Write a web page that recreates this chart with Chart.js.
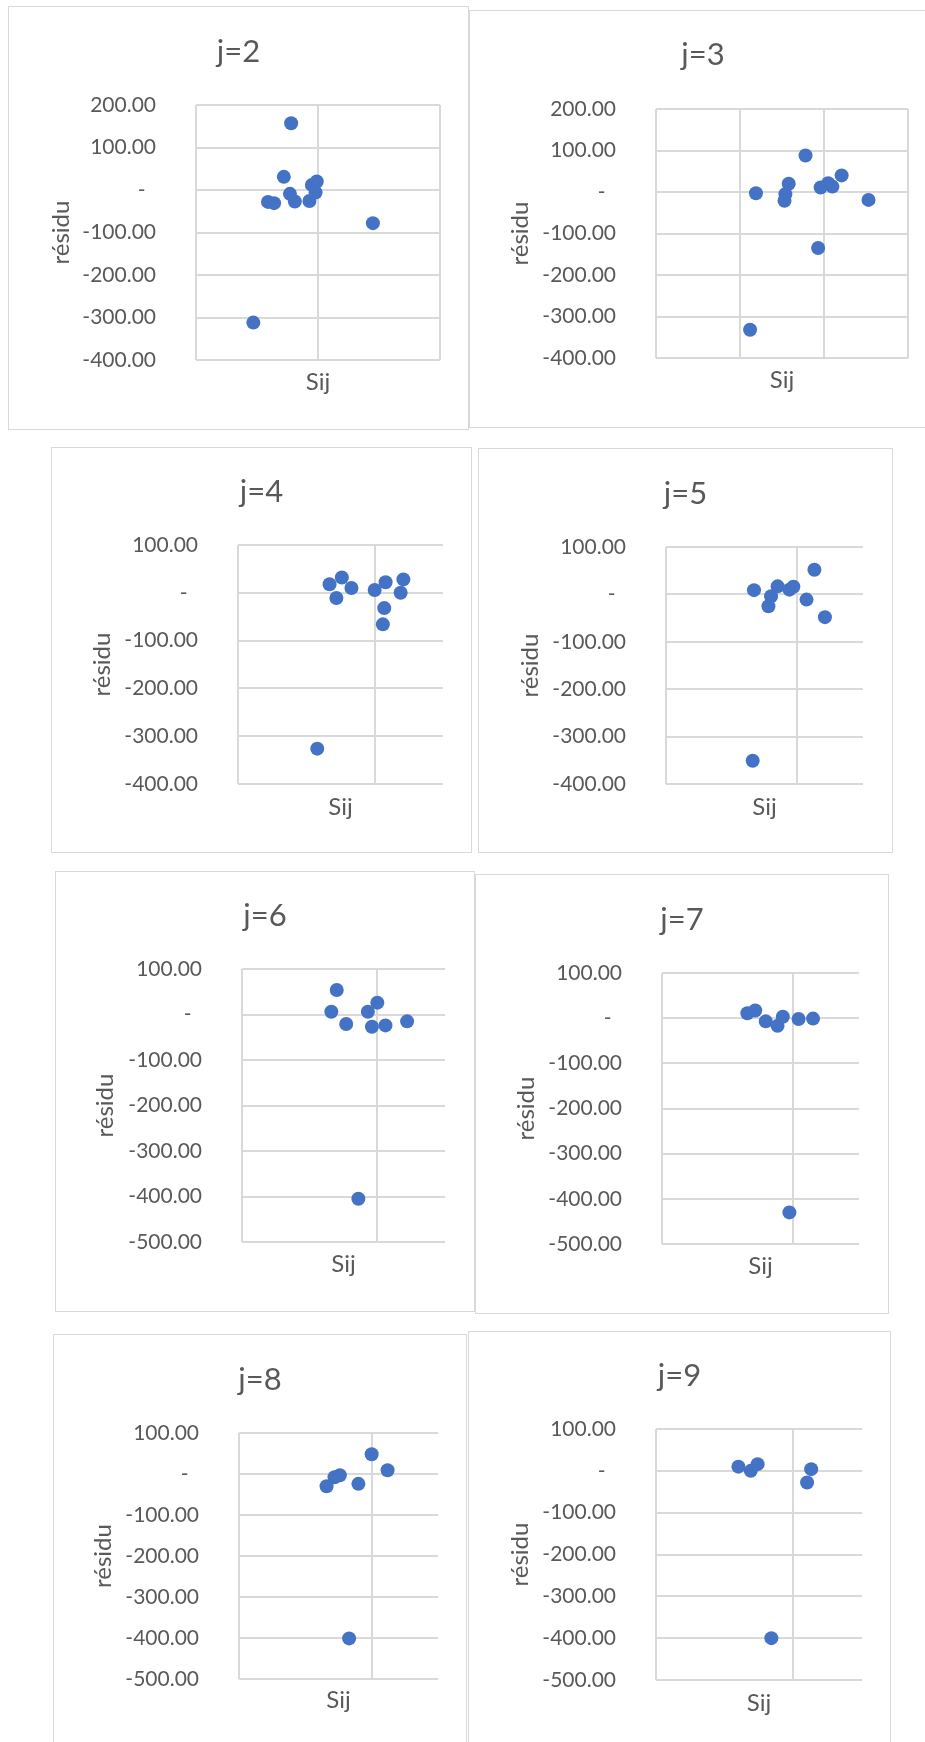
<!DOCTYPE html>
<html>
<head>
<meta charset="utf-8">
<script src="https://cdn.jsdelivr.net/npm/chart.js@4.4.1/dist/chart.umd.min.js"></script>
<style>
  html, body { margin: 0; padding: 0; background: #fff; width: 925px; height: 1742px; overflow: hidden; position: relative; }
  .panel { position: absolute; box-sizing: border-box; border: 1px solid #d9d9d9; background: #fff; }
  .panel canvas { position: absolute; left: 0; top: 0; }
</style>
</head>
<body>
<script>
// Residual plots: residu against Sij, one scatter per j
const titles = ['j=2', 'j=3', 'j=4', 'j=5', 'j=6', 'j=7', 'j=8', 'j=9'];

const sijJ2    = [0.78, 0.72, 0.77, 0.81, 0.59, 0.64, 0.93, 0.98, 0.95, 0.99, 1.45, 0.47];
const residuJ2 = [157, 31, -9, -27, -28, -31, -26, -6, 12, 20, -78, -312];

const sijJ3    = [1.78, 1.19, 1.58, 1.54, 1.53, 1.96, 2.05, 2.10, 2.21, 2.53, 1.93, 1.12];
const residuJ3 = [88, -3, 20, -5, -21, 11, 21, 13, 40, -19, -135, -332];

const sijJ4    = [0.67, 0.76, 0.83, 0.72, 1.00, 1.08, 1.21, 1.19, 1.07, 1.06, 0.58];
const residuJ4 = [18, 32, 10, -11, 6, 22, 28, 0, -32, -66, -326];

const sijJ5    = [0.67, 0.85, 0.80, 0.78, 0.94, 0.97, 1.07, 1.13, 1.21, 0.66];
const residuJ5 = [9, 17, -4, -25, 10, 16, -11, 52, -48, -351];

const sijJ6    = [0.70, 0.66, 0.77, 0.93, 1.00, 0.96, 1.06, 1.22, 0.86];
const residuJ6 = [54, 6, -21, 6, 26, -27, -24, -15, -405];

const sijJ7    = [0.65, 0.71, 0.79, 0.88, 0.92, 1.04, 1.15, 0.97];
const residuJ7 = [11, 17, -7, -17, 3, -2, -1, -430];

const sijJ8    = [1.00, 1.12, 0.76, 0.72, 0.66, 0.90, 0.83];
const residuJ8 = [48, 9, -3, -8, -30, -24, -401];

const sijJ9    = [0.60, 0.69, 0.74, 1.13, 1.10, 0.84];
const residuJ9 = [10, 0, 16, 4, -28, -400];

// axis ranges and tick values
const yMinimums = [-400, -400, -400, -400, -500, -500, -500, -500];
const yMaximums = [200, 200, 100, 100, 100, 100, 100, 100];
const xMaximums = [2, 3, 1.5, 1.5, 1.5, 1.5, 1.5, 1.5];
const xTickValues = [[0, 1, 2], [0, 1, 2, 3], [0, 1], [0, 1], [0, 1], [0, 1], [0, 1], [0, 1]];

const sijSeries = [sijJ2, sijJ3, sijJ4, sijJ5, sijJ6, sijJ7, sijJ8, sijJ9];
const residuSeries = [residuJ2, residuJ3, residuJ4, residuJ5, residuJ6, residuJ7, residuJ8, residuJ9];

// page placement of each framed chart: frame box, plot area, text centres
const frames = [
  { box: [8, 6, 461, 424],     plot: [196, 105, 440, 360],   titleY: 52,    yTitleX: 61,    xTitleY: 382 },
  { box: [469, 10, 468, 418],  plot: [656, 109, 908, 358],   titleY: 55,    yTitleX: 520.5, xTitleY: 380 },
  { box: [51, 447, 421, 406],  plot: [238, 545, 443, 784],   titleY: 492,   yTitleX: 102,   xTitleY: 807 },
  { box: [478, 448, 415, 405], plot: [666, 547, 863, 784],   titleY: 494,   yTitleX: 530,   xTitleY: 807 },
  { box: [55, 871, 420, 441],  plot: [242, 969, 445, 1242],  titleY: 915.5, yTitleX: 105.5, xTitleY: 1264 },
  { box: [475, 874, 414, 440], plot: [662, 973, 859, 1244],  titleY: 920,   yTitleX: 526,   xTitleY: 1266 },
  { box: [53, 1334, 414, 441], plot: [239, 1433, 438, 1679], titleY: 1380,  yTitleX: 103,   xTitleY: 1700 },
  { box: [468, 1331, 423, 441],plot: [656, 1429, 862, 1680], titleY: 1375.5,yTitleX: 520,   xTitleY: 1703 }
];

const TEXT = '#595959';
const GRID = '#d9d9d9';
const DOT = '#4472C4';
const FONT = 'Lato, "Liberation Sans", sans-serif';
const TITLE_SIZE = 31, TICK_SIZE = 21, AXIS_SIZE = 24, LH = 1.2;

titles.forEach((title, i) => {
  const f = frames[i];
  const [bx, by, bw, bh] = f.box;
  const div = document.createElement('div');
  div.className = 'panel';
  Object.assign(div.style, { left: bx + 'px', top: by + 'px', width: bw + 'px', height: bh + 'px' });
  const cw = bw - 2, ch = bh - 2, ox = bx + 1, oy = by + 1;
  const canvas = document.createElement('canvas');
  canvas.width = cw; canvas.height = ch;
  canvas.style.width = cw + 'px'; canvas.style.height = ch + 'px';
  div.appendChild(canvas);
  document.body.appendChild(div);

  const l = f.plot[0] - ox, t = f.plot[1] - oy, r = f.plot[2] - ox, b = f.plot[3] - oy;
  const side = cw - r;
  const titleLH = TITLE_SIZE * LH;
  const titlePadTop = f.titleY - oy - titleLH / 2;
  const titlePadBottom = t - titlePadTop - titleLH;
  const axisLH = AXIS_SIZE * LH;
  const yTitlePad = f.yTitleX - ox - side - axisLH / 2;
  const xTitlePad = ch - (f.xTitleY - oy) - axisLH / 2;

  const points = sijSeries[i].map((x, k) => ({ x, y: residuSeries[i][k] }));

  new Chart(canvas, {
    type: 'scatter',
    data: {
      datasets: [{
        label: 'résidu',
        data: points,
        backgroundColor: DOT,
        borderColor: DOT,
        pointRadius: 7,
        pointHoverRadius: 7,
        pointBorderWidth: 0
      }]
    },
    options: {
      responsive: false,
      animation: false,
      devicePixelRatio: 1,
      layout: { padding: { left: side, right: side, top: 0, bottom: 0 } },
      plugins: {
        legend: { display: false },
        tooltip: { enabled: false },
        title: {
          display: true,
          text: title,
          color: TEXT,
          font: { family: FONT, size: TITLE_SIZE, weight: 'normal', lineHeight: LH },
          padding: { top: titlePadTop, bottom: titlePadBottom }
        }
      },
      scales: {
        x: {
          type: 'linear',
          min: 0,
          max: xMaximums[i],
          afterBuildTicks: s => { s.ticks = xTickValues[i].map(v => ({ value: v })); },
          afterFit: s => { s.height = ch - b; },
          grid: { color: GRID, lineWidth: 2, drawTicks: false },
          border: { display: false },
          ticks: { display: false },
          title: {
            display: true,
            text: 'Sij',
            color: TEXT,
            font: { family: FONT, size: AXIS_SIZE, lineHeight: LH },
            padding: { top: 0, bottom: xTitlePad }
          }
        },
        y: {
          type: 'linear',
          min: yMinimums[i],
          max: yMaximums[i],
          afterFit: s => { s.width = l - side; },
          grid: { color: GRID, lineWidth: 2, drawTicks: false },
          border: { display: false },
          ticks: {
            stepSize: 100,
            padding: 40,
            color: TEXT,
            font: { family: FONT, size: TICK_SIZE },
            callback: v => (v === 0 ? '-\u2002' : v.toFixed(2))
          },
          title: {
            display: true,
            text: 'résidu',
            color: TEXT,
            font: { family: FONT, size: AXIS_SIZE, lineHeight: LH },
            padding: { top: yTitlePad, bottom: 0 }
          }
        }
      }
    }
  });
});
</script>
</body>
</html>
